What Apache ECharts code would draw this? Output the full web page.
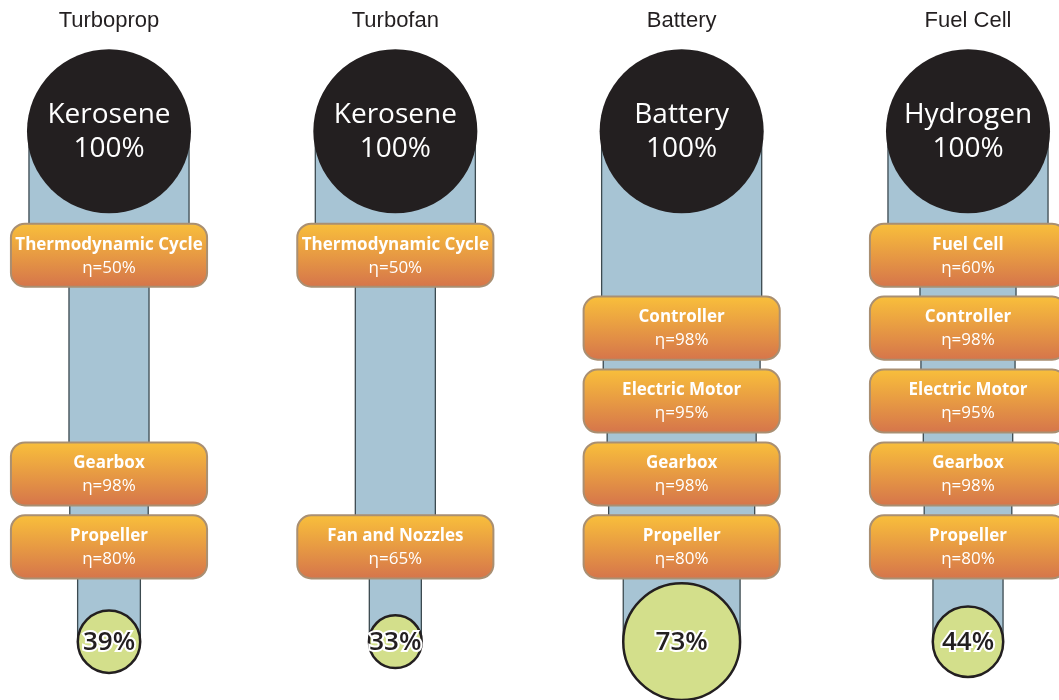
<!DOCTYPE html>
<html>
<head>
<meta charset="utf-8">
<script src="https://cdn.jsdelivr.net/npm/echarts@6/dist/echarts.min.js"></script>
<style>
  html, body { margin: 0; padding: 0; background: #fff; }
  #main { width: 1059px; height: 700px; }
</style>
</head>
<body>
<div id="main"></div>
<script>
// chart data
const columns = ['Turboprop', 'Turbofan', 'Battery', 'Fuel Cell'];
const sources = ['Kerosene', 'Kerosene', 'Battery', 'Hydrogen'];
const results = [39, 33, 73, 44];

const turbopropStages = ['Thermodynamic Cycle', 'Gearbox', 'Propeller'];
const turbopropEta = [50, 98, 80];
const turbofanStages = ['Thermodynamic Cycle', 'Fan and Nozzles'];
const turbofanEta = [50, 65];
const batteryStages = ['Controller', 'Electric Motor', 'Gearbox', 'Propeller'];
const batteryEta = [98, 95, 98, 80];
const fuelCellStages = ['Fuel Cell', 'Controller', 'Electric Motor', 'Gearbox', 'Propeller'];
const fuelCellEta = [60, 98, 95, 98, 80];

// which row each component sits in (layout)
const turbopropSlots = [1, 4, 5];
const turbofanSlots = [1, 5];
const batterySlots = [2, 3, 4, 5];
const fuelCellSlots = [1, 2, 3, 4, 5];

const stageNames = [turbopropStages, turbofanStages, batteryStages, fuelCellStages];
const stageEta = [turbopropEta, turbofanEta, batteryEta, fuelCellEta];
const stageSlots = [turbopropSlots, turbofanSlots, batterySlots, fuelCellSlots];

// layout in axis units
const TITLE_Y = -2.21;
const SOURCE_Y = -0.7;
const SINK_Y = 6.3;
const FULL_W = 0.559;   // band width at 100 %
const BOX_W = 0.685;
const BOX_H = 0.865;
const FONT = '"Open Sans", "Noto Sans", sans-serif';

// build series data
let bandData = [], boxData = [], boxInfo = [], sourceData = [], sinkData = [], titleData = [];
columns.forEach((c, i) => {
  titleData.push([i, TITLE_Y]);
  sourceData.push([i, SOURCE_Y, 100]);
  sinkData.push([i, SINK_Y, results[i]]);
  let levels = [SOURCE_Y].concat(stageSlots[i], [SINK_Y]);
  let pct = 100;
  for (let k = 0; k < levels.length - 1; k++) {
    bandData.push([i, levels[k], levels[k + 1], pct]);
    if (k < stageEta[i].length) pct = pct * stageEta[i][k] / 100;
  }
  stageNames[i].forEach((n, k) => {
    boxData.push([i, stageSlots[i][k]]);
    boxInfo.push({ name: n, eta: stageEta[i][k] });
  });
});

var myChart = echarts.init(document.getElementById('main'));

myChart.setOption({
  animation: false,
  grid: { left: 109, right: 91, top: 0, bottom: 0 },
  xAxis: { type: 'value', min: 0, max: 3, show: false },
  yAxis: { type: 'value', min: -2.5, max: 7.1, inverse: true, show: false },
  series: [
    {
      // blue flow bands
      type: 'custom', clip: false, z: 1,
      data: bandData,
      renderItem: function (params, api) {
        let top = api.coord([api.value(0), api.value(1)]);
        let bot = api.coord([api.value(0), api.value(2)]);
        let w = api.size([FULL_W * api.value(3) / 100, 0])[0];
        return {
          type: 'rect',
          shape: { x: top[0] - w / 2, y: top[1], width: w, height: bot[1] - top[1] },
          style: { fill: '#a7c4d4', stroke: '#3c4a50', lineWidth: 1.3 }
        };
      }
    },
    {
      // energy source circles
      type: 'custom', clip: false, z: 2,
      data: sourceData,
      renderItem: function (params, api) {
        let p = api.coord([api.value(0), api.value(1)]);
        let r = api.size([FULL_W * api.value(2) / 100, 0])[0] / 2 + 2;
        return {
          type: 'group',
          children: [
            { type: 'circle', shape: { cx: p[0], cy: p[1], r: r }, style: { fill: '#231f20' } },
            {
              type: 'text',
              style: {
                x: p[0], y: p[1] + 1,
                text: sources[params.dataIndex] + '\n' + api.value(2) + '%',
                fill: '#fff', font: '28px ' + FONT, lineHeight: 34,
                align: 'center', verticalAlign: 'middle'
              }
            }
          ]
        };
      }
    },
    {
      // component boxes
      type: 'custom', clip: false, z: 3,
      data: boxData,
      renderItem: function (params, api) {
        let p = api.coord([api.value(0), api.value(1)]);
        let s = api.size([BOX_W, BOX_H]);
        let info = boxInfo[params.dataIndex];
        return {
          type: 'group',
          children: [
            {
              type: 'rect',
              shape: { x: p[0] - s[0] / 2, y: p[1] - s[1] / 2, width: s[0], height: s[1], r: 14 },
              style: {
                fill: new echarts.graphic.LinearGradient(0, 0, 0, 1, [
                  { offset: 0, color: '#f9c03b' },
                  { offset: 1, color: '#d5744b' }
                ]),
                stroke: '#a98f72', lineWidth: 2
              }
            },
            {
              type: 'text',
              style: {
                x: p[0], y: p[1] + 1,
                text: '{b|' + info.name + '}\n{n|η=' + info.eta + '%}',
                align: 'center', verticalAlign: 'middle',
                rich: {
                  b: { fill: '#fff', fontFamily: FONT, fontWeight: 'bold', fontSize: 17, lineHeight: 23 },
                  n: { fill: '#fff', fontFamily: FONT, fontSize: 17, lineHeight: 23 }
                }
              }
            }
          ]
        };
      }
    },
    {
      // useful output circles
      type: 'custom', clip: false, z: 4,
      data: sinkData,
      renderItem: function (params, api) {
        let p = api.coord([api.value(0), api.value(1)]);
        let r = api.size([FULL_W * api.value(2) / 100, 0])[0] / 2;
        return {
          type: 'group',
          children: [
            { type: 'circle', shape: { cx: p[0], cy: p[1], r: r }, style: { fill: '#d3df8b', stroke: '#231f20', lineWidth: 2.5 } },
            {
              type: 'text',
              style: {
                x: p[0], y: p[1] + 1,
                text: api.value(2) + '%',
                fill: '#231f20', stroke: '#fff', lineWidth: 4, strokeFirst: true,
                font: '600 26px ' + FONT,
                align: 'center', verticalAlign: 'middle'
              }
            }
          ]
        };
      }
    },
    {
      // column titles
      type: 'custom', clip: false, z: 5,
      data: titleData,
      renderItem: function (params, api) {
        let p = api.coord([api.value(0), api.value(1)]);
        return {
          type: 'text',
          style: {
            x: p[0], y: p[1],
            text: columns[params.dataIndex],
            fill: '#231f20', font: '22px "Liberation Sans", Arial, sans-serif',
            align: 'center', verticalAlign: 'middle'
          }
        };
      }
    }
  ]
});
</script>
</body>
</html>
